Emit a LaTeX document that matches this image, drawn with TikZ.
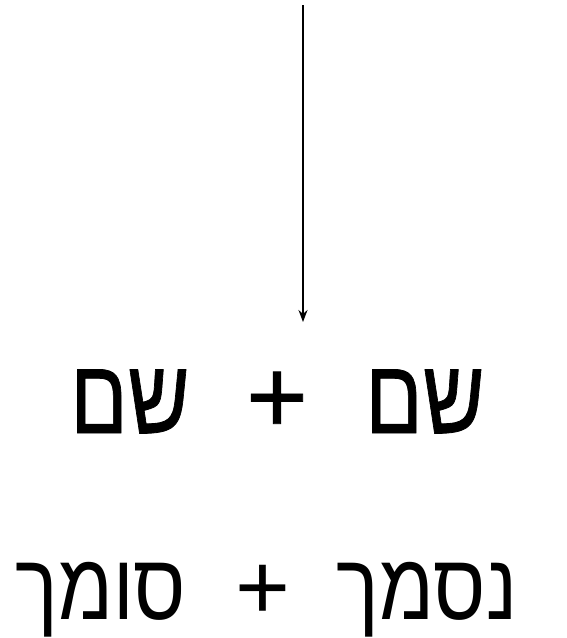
\documentclass[tikz,border=0pt]{standalone}
\usepackage{fontspec}
\setmainfont{Liberation Sans}
\newfontfamily\hebfont[Script=Hebrew]{Liberation Sans}
\newfontfamily\hebheavy[Script=Hebrew,FakeBold=0.8]{Liberation Sans}
\TeXXeTstate=1
\usetikzlibrary{arrows.meta}

% squeeze a right-to-left word horizontally
\newcommand{\rtlword}[2]{\scalebox{#1}[1]{\beginR #2\endR}}

\tikzset{
    wordtop/.style={inner sep=0pt, anchor=base, font=\hebheavy\fontsize{106}{110}\selectfont},
    wordbot/.style={inner sep=0pt, anchor=base, font=\hebfont\fontsize{94}{98}\selectfont}
}

\begin{document}
\begin{tikzpicture}[x=1pt, y=-1pt, >={Stealth[length=12pt,width=9pt]}]
    \useasboundingbox (0,0) rectangle (566,638);

    \coordinate (top) at (303,5);
    \coordinate (tip) at (303,322);
    \draw[->, line width=1.6pt] (top) -- (tip);

    % first row
    \node[wordtop] (nounL) at (130,433) {\rtlword{0.8}{שם}};
    \node[wordtop] (plusA) at (277,433) {+};
    \node[wordtop] (nounR) at (425,433) {\rtlword{0.8}{שם}};

    % second row
    \node[wordbot] (somech) at (101,619) {\rtlword{0.85}{סומך}};
    \node[wordbot] (plusB) at (263,619) {+};
    \node[wordbot] (nismach) at (427,619) {\rtlword{0.85}{נסמך}};
\end{tikzpicture}
\end{document}
